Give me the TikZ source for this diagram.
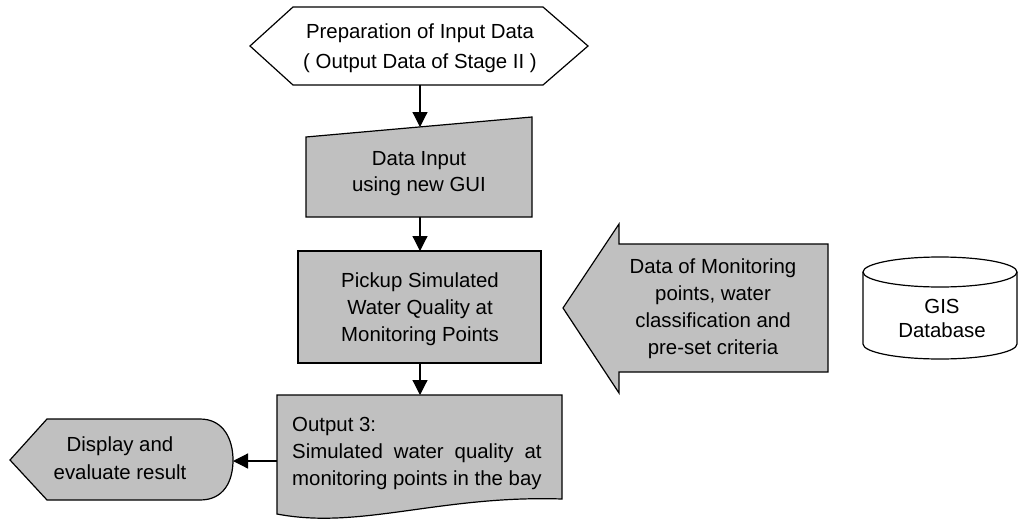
\documentclass[tikz,border=0pt]{standalone}
\usepackage{fontspec}
\setmainfont{Liberation Sans}
\usetikzlibrary{arrows.meta}
\definecolor{boxgray}{RGB}{192,192,192}
\newlength\wlen
\begin{document}
\settowidth{\wlen}{\fontsize{20.4}{27}\selectfont monitoring points in the bay}%
\begin{tikzpicture}[x=1pt,y=-1pt,
  shapeg/.style={draw=black, line width=1.2pt, fill=boxgray, line join=miter},
  shapew/.style={draw=black, line width=1.2pt, fill=white, line join=miter},
  txt/.style={font=\fontsize{20.4}{27}\selectfont, align=center, inner sep=0pt},
  conn/.style={line width=1.2pt, -{Triangle[length=15pt,width=15pt]}}]
\useasboundingbox (0,0) rectangle (1018,522);

% input preparation
\draw[shapew] (250,46) -- (293,7) -- (543,7) -- (588,46) -- (543,85) -- (293,85) -- cycle;
\node[txt, font=\fontsize{20.4}{30}\selectfont] (prep) at (420,48) {Preparation of Input Data\\( Output Data of Stage II )};
\coordinate (prepS) at (420,85);

% manual input
\draw[shapeg] (306,137) -- (532,117) -- (532,217) -- (306,217) -- cycle;
\node[txt, font=\fontsize{20.4}{26}\selectfont] (inp) at (419,174) {Data Input\\using new GUI};
\coordinate (inpN) at (420,127);
\coordinate (inpS) at (420,217);

% pickup
\draw[shapeg] (298,251) rectangle (541,363);
\node[txt] (pick) at (420,309) {Pickup Simulated\\Water Quality at\\Monitoring Points};
\coordinate (pickN) at (420,251);
\coordinate (pickS) at (420,363);

% output document
\draw[shapeg] (277,395) -- (562,395) -- (562,499) .. controls (440,495) and (360,530) .. (277,514) -- cycle;
\node[txt, align=left, anchor=north west] (out) at (292,417) {Output 3:\\\hbox to \wlen{Simulated\hfill water\hfill quality\hfill at}\\monitoring points in the bay};
\coordinate (outN) at (420,395);
\coordinate (outW) at (277,461);

% display
\draw[shapeg] (10,460) -- (47,419) -- (200,419) .. controls (224,419) and (233,440) .. (233,460) .. controls (233,481) and (224,500) .. (200,500) -- (47,500) -- cycle;
\node[txt, font=\fontsize{20.4}{28}\selectfont] (disp) at (120,458) {Display and\\evaluate result};
\coordinate (dispE) at (233,461);

% big arrow
\draw[shapeg] (563,308) -- (619,224) -- (619,244) -- (828,244) -- (828,372) -- (619,372) -- (619,393) -- cycle;
\node[txt] (mon) at (713,309) {Data of Monitoring\\points, water\\classification and\\pre-set criteria};

% GIS cylinder
\draw[shapew] (863,272) -- (863,344) arc[start angle=180, end angle=0, x radius=77, y radius=15] -- (1017,272);
\draw[shapew] (940,272) ellipse [x radius=77, y radius=15];
\node[txt, font=\fontsize{20.4}{24}\selectfont] (gis) at (942,318) {GIS\\Database};

% connectors
\draw[conn] (prepS) -- (inpN);
\draw[conn] (inpS) -- (pickN);
\draw[conn] (pickS) -- (outN);
\draw[conn] (outW) -- (dispE);
\end{tikzpicture}
\end{document}
